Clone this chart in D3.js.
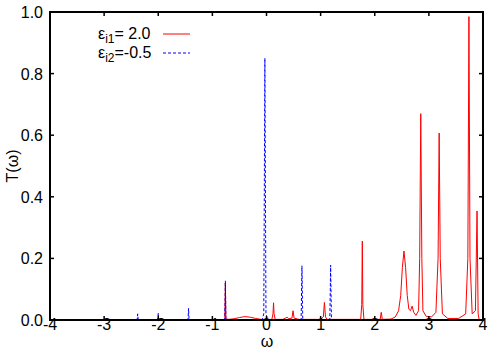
<!DOCTYPE html>
<html>
<meta charset="utf-8">
<head>
<style>
body { margin: 0; background: #fff; }
svg { display: block; font-family: "Liberation Sans", Arial, sans-serif; }
</style>
<script src="https://d3js.org/d3.v7.min.js"></script>
</head>
<body>
<svg></svg>
<script>
// axis ticks
var xTicks = [-4, -3, -2, -1, 0, 1, 2, 3, 4];
var yTicks = [0.0, 0.2, 0.4, 0.6, 0.8, 1.0];

// eps_i1 = 2.0 (red, solid): [omega, T]
var redSeries = [
    [-0.80, 0], [-0.77, 0.004], [-0.76, 0.12], [-0.75, 0.004], [-0.70, 0.002],
    [-0.60, 0.004], [-0.50, 0.008], [-0.40, 0.011], [-0.30, 0.009], [-0.20, 0.005],
    [-0.10, 0.002], [0.00, 0.001], [0.10, 0.002], [0.12, 0.02], [0.13, 0.056],
    [0.14, 0.02], [0.16, 0.002], [0.30, 0.002], [0.35, 0.006], [0.38, 0.009],
    [0.41, 0.004], [0.47, 0.006], [0.49, 0.03], [0.51, 0.006], [0.60, 0.002],
    [1.00, 0.002], [1.05, 0.01], [1.07, 0.057], [1.09, 0.01], [1.12, 0.002],
    [1.74, 0.002], [1.76, 0.05], [1.77, 0.256], [1.78, 0.05], [1.80, 0.002],
    [2.10, 0.002], [2.12, 0.025], [2.14, 0.002], [2.30, 0.003], [2.38, 0.01],
    [2.44, 0.03], [2.48, 0.08], [2.51, 0.17], [2.54, 0.224], [2.57, 0.17],
    [2.60, 0.08], [2.63, 0.035], [2.66, 0.03], [2.69, 0.045], [2.72, 0.025],
    [2.76, 0.015], [2.81, 0.03], [2.83, 0.2], [2.85, 0.67], [2.87, 0.2],
    [2.89, 0.03], [2.95, 0.012], [3.05, 0.01], [3.13, 0.025], [3.17, 0.2],
    [3.19, 0.607], [3.21, 0.2], [3.25, 0.02], [3.35, 0.005], [3.55, 0.005],
    [3.68, 0.02], [3.72, 0.2], [3.74, 0.985], [3.76, 0.2], [3.80, 0.02],
    [3.86, 0.03], [3.89, 0.354], [3.91, 0.02], [3.93, 0]
];

// eps_i2 = -0.5 (blue, dashed)
var blueSeries = [
    [-2.39, 0], [-2.38, 0.02], [-2.37, 0],
    [-2.01, 0], [-2.00, 0.023], [-1.99, 0],
    [-1.45, 0], [-1.44, 0.038], [-1.43, 0],
    [-0.77, 0], [-0.76, 0.127], [-0.75, 0],
    [-0.08, 0], [-0.05, 0.02], [-0.03, 0.85], [-0.01, 0.02], [0.02, 0],
    [0.64, 0], [0.655, 0.176], [0.67, 0],
    [1.17, 0], [1.185, 0.178], [1.20, 0]
];

var width = 500, height = 350;
var mLeft = 50, mRight = 483, mTop = 12, mBottom = 320;

var svg = d3.select("svg")
    .attr("width", width)
    .attr("height", height);

var x = d3.scaleLinear().domain([-4, 4]).range([mLeft, mRight]);
var y = d3.scaleLinear().domain([0, 1]).range([mBottom, mTop]);

var line = d3.line()
    .x(d => x(d[0]))
    .y(d => y(d[1]));

svg.append("path")
    .datum(redSeries)
    .attr("d", line)
    .attr("fill", "none")
    .attr("stroke", "#ff0000")
    .attr("stroke-width", 1);

// the flat zero stretches sit under the axis, so draw the blue series
// peak by peak (split where it returns to zero) to keep each dash pattern visible
var bluePeaks = [], cur = [];
blueSeries.forEach(p => {
    cur.push(p);
    if (p[1] === 0 && cur.length > 1) { bluePeaks.push(cur); cur = []; }
});

svg.append("g").selectAll("path")
    .data(bluePeaks).enter().append("path")
    .attr("d", line)
    .attr("fill", "none")
    .attr("stroke", "#0000ff")
    .attr("stroke-width", 1)
    .attr("stroke-dasharray", "3,2")
    .attr("stroke-dashoffset", 1);

// ticks, inward on all sides
var tl = 4;
var g = svg.append("g").attr("stroke", "#000").attr("stroke-width", 1.5);
xTicks.forEach(t => {
    g.append("line").attr("x1", x(t)).attr("x2", x(t)).attr("y1", mBottom).attr("y2", mBottom - tl);
    g.append("line").attr("x1", x(t)).attr("x2", x(t)).attr("y1", mTop).attr("y2", mTop + tl);
});
yTicks.forEach(t => {
    g.append("line").attr("x1", mLeft).attr("x2", mLeft + tl).attr("y1", y(t)).attr("y2", y(t));
    g.append("line").attr("x1", mRight).attr("x2", mRight - tl).attr("y1", y(t)).attr("y2", y(t));
});

// frame
svg.append("rect")
    .attr("x", mLeft).attr("y", mTop)
    .attr("width", mRight - mLeft).attr("height", mBottom - mTop)
    .attr("fill", "none")
    .attr("stroke", "#000")
    .attr("stroke-width", 2);

// tick labels
svg.append("g").selectAll("text")
    .data(xTicks).enter().append("text")
    .attr("x", d => x(d))
    .attr("y", 330)
    .attr("text-anchor", "middle")
    .attr("font-size", 16)
    .text(d => d);

svg.append("g").selectAll("text")
    .data(yTicks).enter().append("text")
    .attr("x", 43)
    .attr("y", d => y(d) + 6)
    .attr("text-anchor", "end")
    .attr("font-size", 16)
    .text(d => d3.format(".1f")(d));

// axis titles
svg.append("text")
    .attr("x", 267).attr("y", 347)
    .attr("text-anchor", "middle")
    .attr("font-size", 16)
    .text("ω");

svg.append("text")
    .attr("transform", "translate(18,166) rotate(-90)")
    .attr("text-anchor", "middle")
    .attr("font-size", 16)
    .text("T(ω)");

// legend
var legend = [
    {sub: "i1", rest: "= 2.0", color: "#ff0000", dash: null, yb: 39},
    {sub: "i2", rest: "=-0.5", color: "#0000ff", dash: "3,2", yb: 58}
];
legend.forEach(l => {
    var t = svg.append("text")
        .attr("x", 98).attr("y", l.yb)
        .attr("font-size", 16);
    t.append("tspan").text("ε");
    t.append("tspan").attr("font-size", 12).attr("dy", 4).text(l.sub);
    t.append("tspan").attr("dy", -4).text(l.rest);
    svg.append("line")
        .attr("x1", 163).attr("x2", 190)
        .attr("y1", l.yb - 5).attr("y2", l.yb - 5)
        .attr("stroke", l.color)
        .attr("stroke-width", 1)
        .attr("stroke-dasharray", l.dash);
});
</script>
</body>
</html>
